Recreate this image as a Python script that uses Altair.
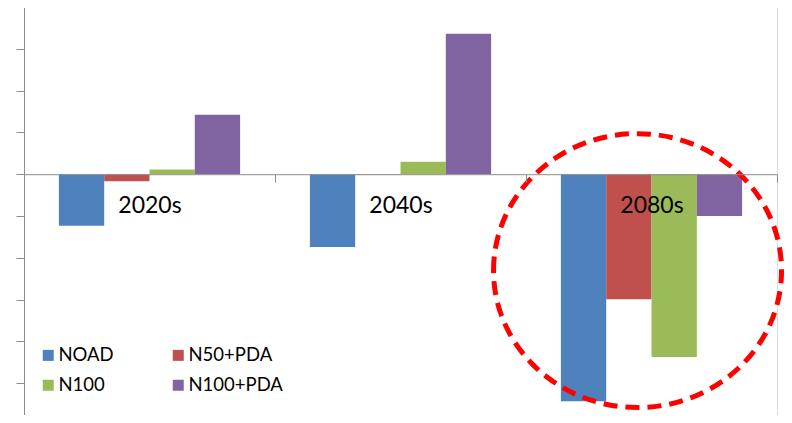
import altair as alt
import pandas as pd

categories = ["2020s", "2040s", "2080s"]
series = ["NOAD", "N50+PDA", "N100", "N100+PDA"]
noad = [-1.23, -1.74, -5.43]
n50_pda = [-0.17, -0.01, -2.99]
n100 = [0.11, 0.30, -4.37]
n100_pda = [1.42, 3.36, -1.00]
colors = ["#4F81BD", "#C0504D", "#9BBB59", "#8064A2"]
y_ticks = [-5, -4, -3, -2, -1, 0, 1, 2, 3, 4]

# annotation: dashed ellipse around the 2080s group
highlight_cat = ["2080s"]
highlight_y = [-2.305]

rows = []
for s, vals in zip(series, [noad, n50_pda, n100, n100_pda]):
    for c, v in zip(categories, vals):
        rows.append({"period": c, "series": s, "value": v})
df = pd.DataFrame(rows)
df_circle = pd.DataFrame({"period": highlight_cat, "value": highlight_y})

W, H = 753, 408
Y_MIN, Y_MAX = -5.76, 4
FONT = "Lato"
GRAY = "#8C8C8C"

x_scale = alt.Scale(domain=categories, paddingInner=0, paddingOuter=0)
y_scale = alt.Scale(domain=[Y_MIN, Y_MAX], nice=False, zero=False)

zero_offset = -H * (-Y_MIN) / (Y_MAX - Y_MIN)

bars = alt.Chart(df).mark_bar().encode(
    x=alt.X("period:N", scale=x_scale, sort=categories,
            axis=alt.Axis(title=None, orient="bottom", offset=zero_offset,
                          domainColor=GRAY, domainWidth=1,
                          tickColor=GRAY, tickSize=8, tickBand="extent",
                          labelFont=FONT, labelFontSize=23, labelColor="#000000",
                          labelPadding=12, labelAngle=0, zindex=1)),
    xOffset=alt.XOffset("series:N", sort=series,
                        scale=alt.Scale(paddingInner=0, paddingOuter=0.77)),
    y=alt.Y("value:Q", scale=y_scale,
            axis=alt.Axis(title=None, values=y_ticks, labels=False,
                          grid=False, domainColor=GRAY, tickColor=GRAY,
                          tickSize=8, zindex=1)),
    color=alt.Color("series:N", sort=series,
                    scale=alt.Scale(domain=series, range=colors),
                    legend=alt.Legend(title=None, orient="none",
                                      direction="horizontal",
                                      legendX=15, legendY=339,
                                      columns=2, columnPadding=55,
                                      rowPadding=11, padding=0,
                                      symbolType="square", symbolSize=121,
                                      symbolStrokeWidth=0,
                                      labelFont=FONT, labelFontSize=18.5,
                                      labelColor="#000000", labelOffset=1,
                                      labelLimit=200)),
)

# ellipse outline (unit coords, shifted slightly left of the band centre)
sx = -0.097
ellipse_path = (f"M {-1+sx} 0 C {-1+sx} -0.5253 {-0.5523+sx} -0.951 {sx} -0.951 "
                f"C {0.5523+sx} -0.951 {1+sx} -0.5253 {1+sx} 0 "
                f"C {1+sx} 0.5253 {0.5523+sx} 0.951 {sx} 0.951 "
                f"C {-0.5523+sx} 0.951 {-1+sx} 0.5253 {-1+sx} 0 Z")

circle = alt.Chart(df_circle).mark_point(
    shape=ellipse_path, size=288 * 288, filled=False,
    stroke="#FF0000", strokeWidth=5, strokeDash=[14, 8], opacity=1,
).encode(
    x=alt.X("period:N", scale=x_scale, sort=categories),
    y=alt.Y("value:Q", scale=y_scale),
)

chart = alt.layer(bars, circle).properties(
    width=W, height=H,
    autosize=alt.AutoSizeParams(type="none"),
    padding={"left": 16, "top": -1, "right": 7, "bottom": 0},
).configure_view(
    stroke=GRAY, strokeWidth=1
).configure(
    background="#FFFFFF"
)

chart.save("out.html", embed_options={"renderer": "svg", "actions": False})
